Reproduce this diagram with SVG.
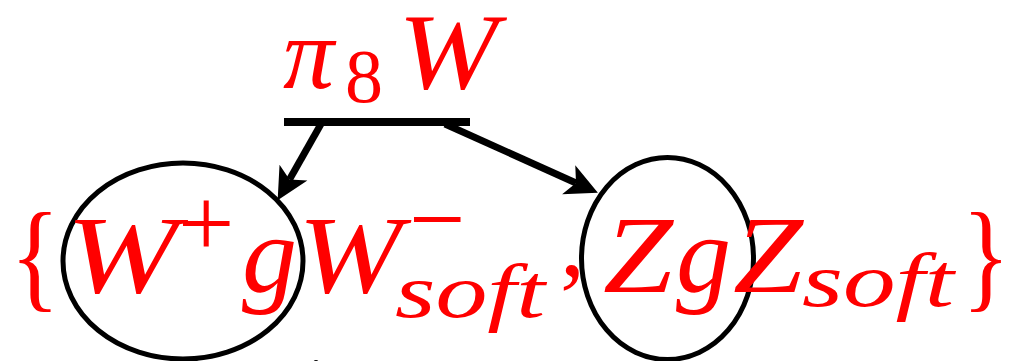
<svg xmlns="http://www.w3.org/2000/svg" width="1012" height="361" viewBox="0 0 1012 361">
<style>
.m{font-family:"Liberation Serif","DejaVu Serif",serif;fill:#ff0000;font-style:italic}
.u{font-family:"Liberation Serif","DejaVu Serif",serif;fill:#ff0000;font-style:normal}
.ell{fill:none;stroke:#000;stroke-width:5}
.conn{stroke:#000;stroke-width:7;fill:none}
</style>
<defs>
<marker id="ah" markerUnits="userSpaceOnUse" viewBox="-10 -18 36 36" markerWidth="36" markerHeight="36" refX="0" refY="0" orient="auto">
<path d="M24,0 L-8,-16 L0,0 L-8,16 Z" fill="#000"/>
</marker>
</defs>
<rect width="1012" height="361" fill="#fff"/>
<g id="top">
<text class="m" x="283" y="88" font-size="102">π</text>
<text class="u" x="345" y="102" font-size="76">8</text>
<text class="m" x="398" y="88" font-size="108" textLength="100" lengthAdjust="spacingAndGlyphs">W</text>
<rect x="284" y="118" width="186" height="8" fill="#000"/>
</g>
<g id="left-node">
<ellipse class="ell" cx="183" cy="261" rx="120" ry="98"/>
</g>
<g id="right-node">
<ellipse class="ell" cx="667.5" cy="258.5" rx="86" ry="101"/>
</g>
<g id="label">
<text class="u" x="10" y="296" font-size="120" textLength="50" lengthAdjust="spacingAndGlyphs">{</text>
<text class="m" x="66" y="292" font-size="110" textLength="112" lengthAdjust="spacingAndGlyphs">W</text>
<text class="u" x="178" y="257" font-size="100">+</text>
<text class="m" x="242" y="292" font-size="110">g</text>
<text class="m" x="298" y="292" font-size="110" textLength="104" lengthAdjust="spacingAndGlyphs">W</text>
<text class="u" x="409" y="253" font-size="100">−</text>
<text class="m" x="395" y="317" font-size="76" textLength="150" lengthAdjust="spacingAndGlyphs">soft</text>
<text class="u" x="560" y="275" font-size="100">,</text>
<text class="m" x="603" y="292" font-size="110" textLength="70" lengthAdjust="spacingAndGlyphs">Z</text>
<text class="m" x="676" y="292" font-size="110">g</text>
<text class="m" x="733" y="292" font-size="110" textLength="70" lengthAdjust="spacingAndGlyphs">Z</text>
<text class="m" x="802" y="306" font-size="76" textLength="152" lengthAdjust="spacingAndGlyphs">soft</text>
<text class="u" x="962" y="296" font-size="120" textLength="48" lengthAdjust="spacingAndGlyphs">}</text>
</g>
<g id="connectors">
<line class="conn" x1="321" y1="124" x2="289.5" y2="179.5" marker-end="url(#ah)"/>
<line class="conn" x1="445" y1="124" x2="576" y2="183" marker-end="url(#ah)"/>
</g>
<g id="fragments">
<ellipse cx="192" cy="367" rx="10" ry="8" fill="#000"/>
<ellipse cx="316" cy="364" rx="3" ry="4" fill="#000"/>
</g>
</svg>
